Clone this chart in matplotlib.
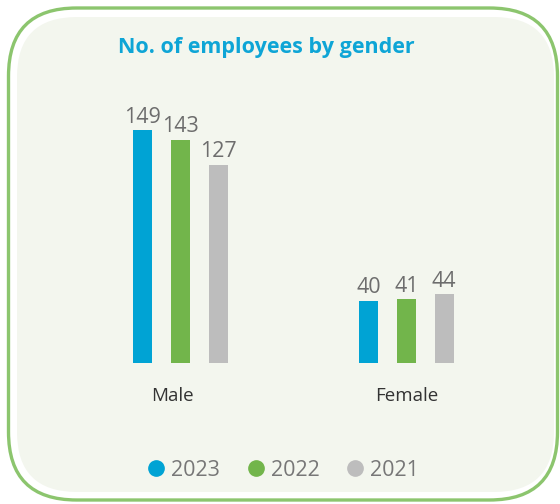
import matplotlib.pyplot as plt
from matplotlib.patches import FancyBboxPatch
from matplotlib.lines import Line2D
from matplotlib.transforms import ScaledTranslation
import numpy as np

categories = ['Male', 'Female']
years = ['2023', '2022', '2021']
values = {
    '2023': [149, 40],
    '2022': [143, 41],
    '2021': [127, 44],
}
colors = ['#00a3d4', '#72b54b', '#bdbdbd']

plt.rcParams['font.family'] = ['Open Sans', 'DejaVu Sans']

fig = plt.figure(figsize=(5.6, 5.04), dpi=100)
fig.patch.set_facecolor('white')

# background panel in pixel coordinates
bg = fig.add_axes([0, 0, 1, 1])
bg.set_xlim(0, 560)
bg.set_ylim(504, 0)
bg.axis('off')
bg.add_patch(FancyBboxPatch((8.5, 8), 549, 492, boxstyle='round,pad=0,rounding_size=68',
                            facecolor='white', edgecolor='#8cc56e', linewidth=2.4))
bg.add_patch(FancyBboxPatch((17, 17), 537, 475, boxstyle='round,pad=0,rounding_size=60',
                            facecolor='#f3f6ee', edgecolor='none'))

fig.text(266.5 / 560, 0.905, 'No. of employees by gender', ha='center', va='center',
         fontsize=15.5, fontweight='bold', color='#0ea5d6')

ax = fig.add_axes([67.5 / 560, (504 - 363) / 504, 452 / 560, 250 / 504])
ax.patch.set_alpha(0)
x = np.arange(len(categories))
width = 0.084
offset = 0.166
for i, yr in enumerate(years):
    bars = ax.bar(x + (i - 1) * offset, values[yr], width, color=colors[i])
    for b, v in zip(bars, values[yr]):
        ax.text(b.get_x() + b.get_width() / 2, v + 1.5, str(v), ha='center', va='bottom',
                fontsize=15.5, color='#6d6d6d')
ax.set_xlim(-0.5, 1.5)
ax.set_ylim(0, 160)
ax.set_xticks(x)
ax.set_xticklabels(categories, fontsize=13.5, color='#333333')
ax.tick_params(axis='x', length=0, pad=17)
lbl = ax.get_xticklabels()[0]
lbl.set_transform(lbl.get_transform() + ScaledTranslation(-0.08, 0, fig.dpi_scale_trans))
ax.set_yticks([])
for s in ax.spines.values():
    s.set_visible(False)

handles = [Line2D([], [], marker='o', linestyle='none', markersize=11,
                  markerfacecolor=c, markeredgecolor=c) for c in colors]
leg = fig.legend(handles, years, loc='center', bbox_to_anchor=(0.506, 0.067), ncol=3,
                 frameon=False, fontsize=15.5, handletextpad=0.3, columnspacing=1.25,
                 handlelength=0.8)
for t in leg.get_texts():
    t.set_color('#777777')

fig.savefig('out.png', dpi=100)
